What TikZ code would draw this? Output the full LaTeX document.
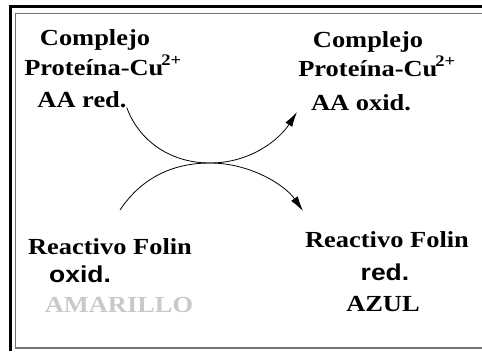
\documentclass[tikz,border=0pt]{standalone}
\usepackage{fontspec}
\usepackage{tikz}
\usetikzlibrary{arrows.meta}
\newfontfamily\lblserif[FakeStretch=1.15]{Liberation Serif}
\newfontfamily\lblsans[FakeStretch=1.15]{Liberation Sans}
\definecolor{amarillo}{rgb}{0.79,0.79,0.79}
\definecolor{framegray}{rgb}{0.45,0.45,0.45}
\tikzset{
  lbl/.style={anchor=base, inner sep=0pt, font=\lblserif\bfseries\fontsize{23}{28}\selectfont},
  lblsf/.style={anchor=base, inner sep=0pt, font=\lblsans\bfseries\fontsize{23}{28}\selectfont},
  reac/.style={line width=0.8pt, -{Latex[length=15pt,width=8pt]}}
}
\begin{document}
\begin{tikzpicture}[x=1pt,y=-1pt]
\useasboundingbox (0,0) rectangle (482,351);

% frame
\draw[line width=3pt] (10.5,351) |- (482,6.5);
\draw[line width=1.2pt, color=framegray] (482,13.5) -| (15.5,348) -- (482,348);

% protein side
\node[lbl] (cpl) at (95,45) {Complejo};
\node[lbl] (prl) at (103,75) {Proteína-Cu\kern-2pt\textsuperscript{2+}};
\node[lbl] (ared) at (82,107) {AA red.};
\node[lbl] (cpr) at (368,47) {Complejo};
\node[lbl] (prr) at (377,76) {Proteína-Cu\kern-2pt\textsuperscript{2+}};
\node[lbl] (aox) at (361,110) {AA oxid.};

% folin side
\node[lbl] (rfl) at (110,254) {Reactivo Folin};
\node[lblsf] (foxl) at (80,282) {oxid.};
\node[lbl, color=amarillo] (amar) at (119,312) {AMARILLO};
\node[lbl] (rfr) at (387,247) {Reactivo Folin};
\node[lblsf] (fred) at (385,280) {red.};
\node[lbl] (azul) at (383,311) {AZUL};

\coordinate (touch) at (210,163);
\coordinate (aoxtip) at (297,112);
\coordinate (foxstart) at (120,210);
\coordinate (fredtip) at (303,211);

\draw[reac] (ared.south east) .. controls +(12,33) and +(-40,0) .. (touch)
  .. controls +(40,0) and +(-18,28) .. (aoxtip);
\draw[reac] (foxstart) .. controls +(20,-30) and +(-40,0) .. (touch)
  .. controls +(40,0) and +(-18,-26) .. (fredtip);
\end{tikzpicture}
\end{document}
